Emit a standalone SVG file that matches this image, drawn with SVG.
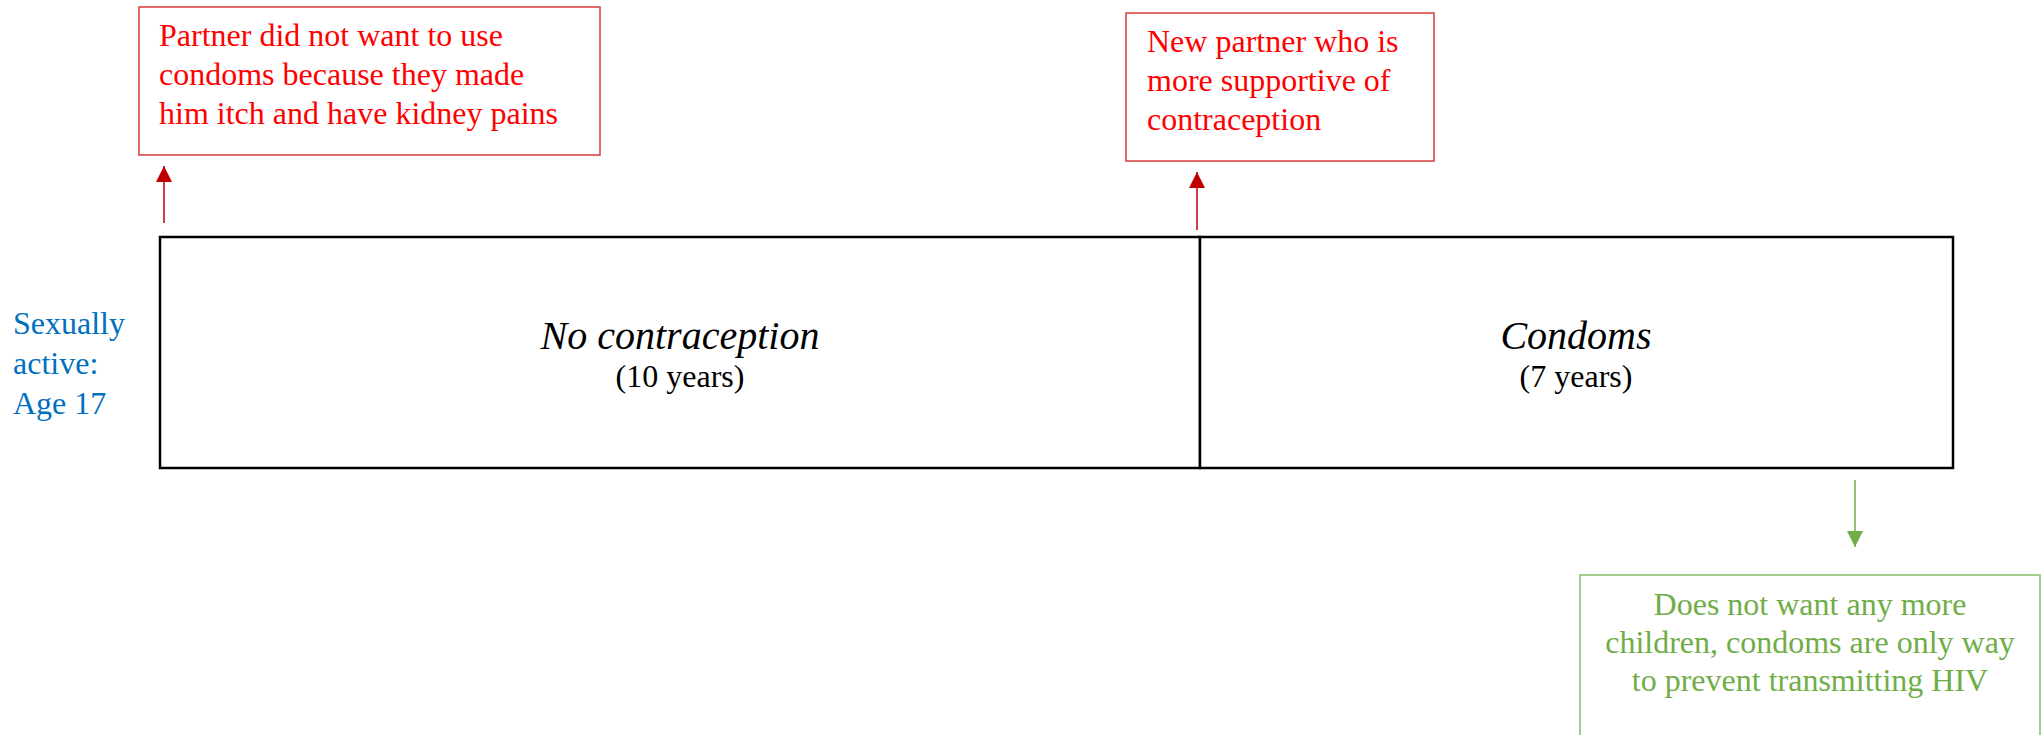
<svg xmlns="http://www.w3.org/2000/svg" width="2042" height="735" viewBox="0 0 2042 735">
  <style>
    text { font-family: "Liberation Serif", "Times New Roman", serif; font-size: 32px; }
    .red { fill: #FF0000; }
    .blue { fill: #0070C0; }
    .green { fill: #70AD47; }
    .title { font-style: italic; font-size: 40px; fill: #000; }
    .sub { fill: #000; }
    .redbox { fill: #fff; stroke: #D63A3A; stroke-width: 1.5; }
    .greenbox { fill: #fff; stroke: #86BC66; stroke-width: 1.5; }
    .stage { fill: #fff; stroke: #000; stroke-width: 2.5; }
    .conn-red { stroke: #C00000; stroke-width: 1.5; fill: none; }
    .conn-green { stroke: #70AD47; stroke-width: 1.5; fill: none; }
  </style>
  <defs>
    <marker id="arrowRed" viewBox="0 0 10 10" refX="10" refY="5" markerWidth="10" markerHeight="10" markerUnits="userSpaceOnUse" orient="auto" overflow="visible">
      <path d="M0,0 L10,5 L0,10 z" fill="#C00000" transform="scale(1.6)" transform-origin="10 5"/>
    </marker>
    <marker id="arrowGreen" viewBox="0 0 10 10" refX="10" refY="5" markerWidth="10" markerHeight="10" markerUnits="userSpaceOnUse" orient="auto" overflow="visible">
      <path d="M0,0 L10,5 L0,10 z" fill="#70AD47" transform="scale(1.6)" transform-origin="10 5"/>
    </marker>
  </defs>

  <!-- timeline bar -->
  <g id="no-contraception">
    <rect class="stage" x="160" y="237" width="1040" height="231"/>
    <text class="title" x="680" y="349" text-anchor="middle">No contraception</text>
    <text class="sub" x="680" y="387" text-anchor="middle">(10 years)</text>
  </g>
  <g id="condoms">
    <rect class="stage" x="1200" y="237" width="753" height="231"/>
    <text class="title" x="1576" y="349" text-anchor="middle">Condoms</text>
    <text class="sub" x="1576" y="387" text-anchor="middle">(7 years)</text>
  </g>

  <!-- start label -->
  <g id="start">
    <text class="blue" x="13" y="334">Sexually</text>
    <text class="blue" x="13" y="374">active:</text>
    <text class="blue" x="13" y="414">Age 17</text>
  </g>

  <!-- events -->
  <g id="event-partner">
    <rect class="redbox" x="139" y="7" width="461" height="148"/>
    <text class="red" x="159" y="46">Partner did not want to use</text>
    <text class="red" x="159" y="85">condoms because they made</text>
    <text class="red" x="159" y="124">him itch and have kidney pains</text>
  </g>
  <g id="event-new-partner">
    <rect class="redbox" x="1126" y="13" width="308" height="148"/>
    <text class="red" x="1147" y="52">New partner who is</text>
    <text class="red" x="1147" y="91">more supportive of</text>
    <text class="red" x="1147" y="130">contraception</text>
  </g>
  <g id="event-no-more-children">
    <rect class="greenbox" x="1580" y="575" width="460" height="180"/>
    <text class="green" x="1810" y="615" text-anchor="middle">Does not want any more</text>
    <text class="green" x="1810" y="653" text-anchor="middle">children, condoms are only way</text>
    <text class="green" x="1810" y="691" text-anchor="middle">to prevent transmitting HIV</text>
  </g>

  <!-- connectors -->
  <g id="connectors">
    <line class="conn-red" x1="164" y1="223" x2="164" y2="166" marker-end="url(#arrowRed)"/>
    <line class="conn-red" x1="1197" y1="230" x2="1197" y2="172" marker-end="url(#arrowRed)"/>
    <line class="conn-green" x1="1855" y1="480" x2="1855" y2="547" marker-end="url(#arrowGreen)"/>
  </g>
</svg>
